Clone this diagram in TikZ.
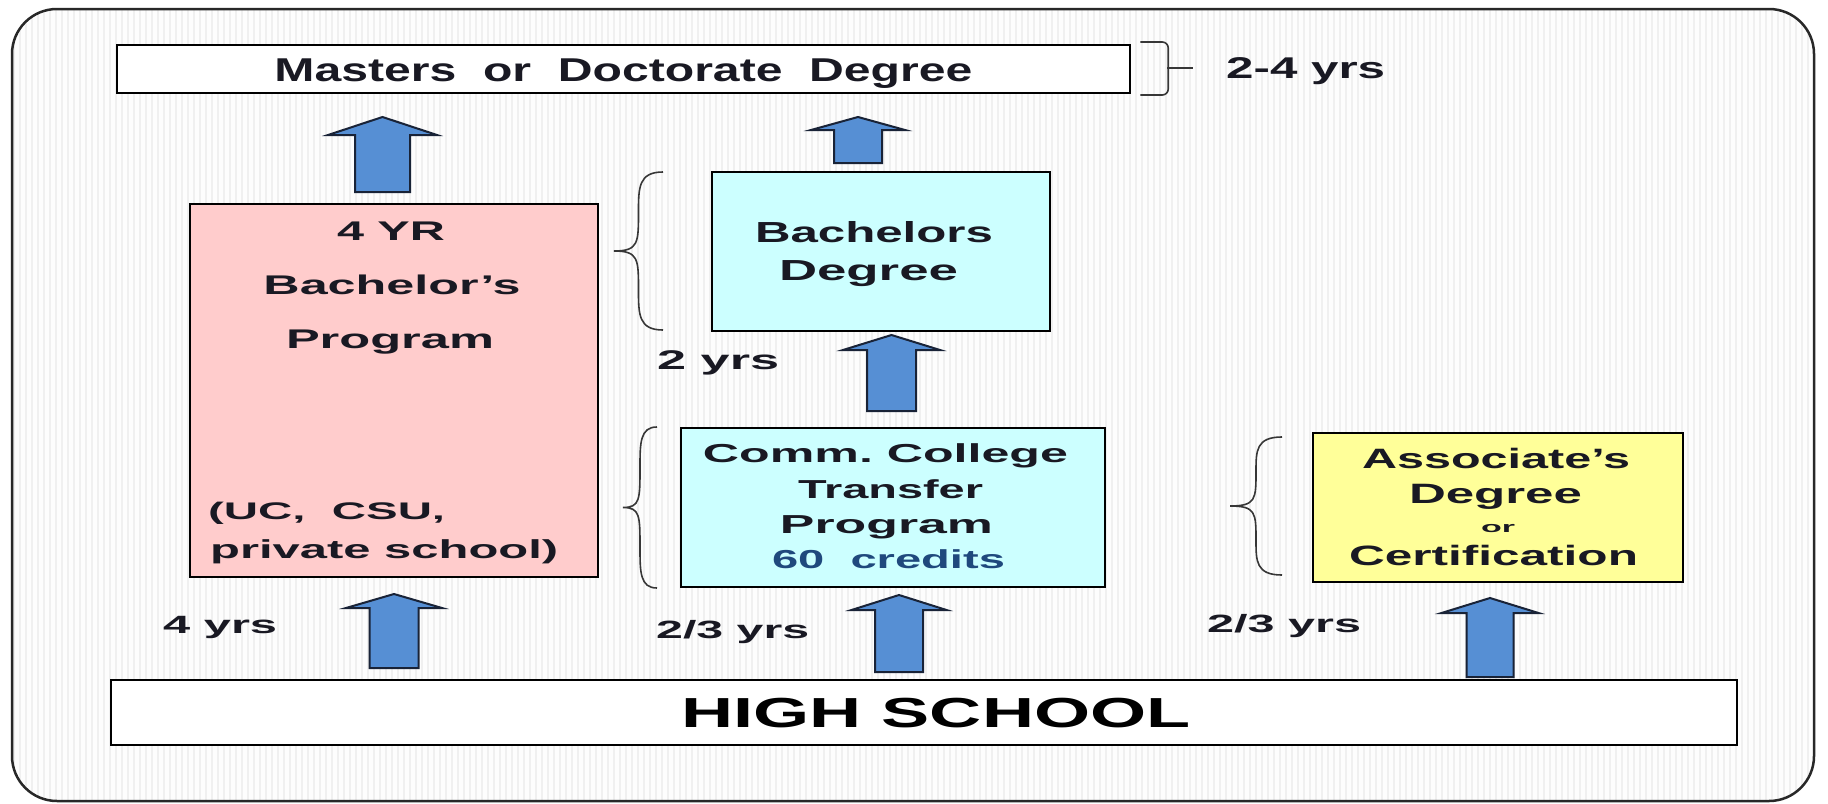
\documentclass[tikz,border=0pt]{standalone}
\usepackage{fontspec}
\setmainfont{Liberation Sans}
\usepackage{graphicx}
\definecolor{txtc}{RGB}{25,25,35}
\definecolor{bluetxt}{RGB}{31,73,125}
\definecolor{pinkf}{RGB}{255,204,204}
\definecolor{cyanf}{RGB}{204,255,255}
\definecolor{yellf}{RGB}{255,255,153}
\definecolor{arrf}{RGB}{86,143,212}
\definecolor{arrd}{RGB}{25,35,55}
\definecolor{bgc}{RGB}{253,253,253}
\definecolor{stripec}{RGB}{240,240,240}
\definecolor{brcc}{RGB}{55,55,55}
\newcommand\fw[2]{\resizebox{#1pt}{\height}{#2}}
\newcommand\fsz[1]{\fontsize{#1pt}{#1pt}\selectfont\bfseries}
\newcommand\leftbrc[4]{%
\draw[brc] (#2,#3) .. controls ({(#1+#2)/2},#3) and ({(#1+#2)/2},{#3+0.1*(#4-#3)}) .. ({(#1+#2)/2},{#3+0.25*(#4-#3)})
 .. controls ({(#1+#2)/2},{(#3+#4)/2-0.05*(#4-#3)}) and ({(#1+#2)/2},{(#3+#4)/2}) .. (#1,{(#3+#4)/2})
 .. controls ({(#1+#2)/2},{(#3+#4)/2}) and ({(#1+#2)/2},{(#3+#4)/2+0.05*(#4-#3)}) .. ({(#1+#2)/2},{#4-0.25*(#4-#3)})
 .. controls ({(#1+#2)/2},{#4-0.1*(#4-#3)}) and ({(#1+#2)/2},#4) .. (#2,#4);}
% cx, tip, base, bottom, shaft half, head half
\newcommand\blockup[6]{%
\draw[barrow] ({#1-#5},#4) -- ({#1-#5},#3) -- ({#1-#6},#3) -- (#1,#2) -- ({#1+#6},#3) -- ({#1+#5},#3) -- ({#1+#5},#4) -- cycle;}
\begin{document}
\begin{tikzpicture}[x=1pt,y=-1pt,
  box/.style={draw=black, line width=2.5pt, inner sep=0pt},
  txt/.style={inner sep=0pt, text=txtc},
  brc/.style={draw=brcc, line width=1.6pt},
  barrow/.style={fill=arrf, draw=arrd, line width=2pt, line join=miter}]
\useasboundingbox (0,0) rectangle (1828,803);
% background with stripes
\begin{scope}
\clip[rounded corners=45pt] (12,9) rectangle (1814,801);
\fill[bgc] (12,9) rectangle (1814,801);
\foreach \x in {14,20,...,1812} \draw[stripec, line width=2.2pt] (\x,9) -- (\x,801);
\end{scope}
\draw[draw={rgb,255:red,40;green,40;blue,40}, line width=2.5pt, rounded corners=45pt] (12,9) rectangle (1814,801);

% boxes
\node[box, fill=white, minimum width=1013pt, minimum height=48pt, text height=24pt, text depth=0pt] (md) at (623.5,69)
  {\fsz{33}\textcolor{txtc}{\fw{698}{Masters\ \ or\ \ Doctorate\ \ Degree}}\hspace{22pt}};
\node[box, fill=pinkf, minimum width=408pt, minimum height=373pt] (pink) at (394,390.5) {};
\node[box, fill=cyanf, minimum width=338pt, minimum height=159pt] (bach) at (881,251.5) {};
\node[box, fill=cyanf, minimum width=424pt, minimum height=159pt] (comm) at (893,507.5) {};
\node[box, fill=yellf, minimum width=370pt, minimum height=149pt] (assoc) at (1498,507.5) {};
\node[box, fill=white, minimum width=1626pt, minimum height=65pt, text height=30pt, text depth=0pt] (hs) at (924,712.5)
  {\hspace{24pt}\fsz{42}\textcolor{black}{\fw{509}{HIGH SCHOOL}}};

% texts
\node[txt, anchor=base west] (yrs24) at (1226,78) {\fsz{30}\fw{159}{2-4 yrs}};
\node[txt, anchor=base] (p1) at (391,240) {\fsz{27}\fw{108}{4 YR}};
\node[txt, anchor=base] (p2) at (392,294) {\fsz{27}\fw{257}{Bachelor’s}};
\node[txt, anchor=base] (p3) at (390,348) {\fsz{27}\fw{208}{Program}};
\node[txt, anchor=base west] (p4) at (208,519) {\fsz{24}\fw{237}{(UC,\ \ CSU,}};
\node[txt, anchor=base west] (p5) at (210,558) {\fsz{26}\fw{348}{private school)}};
\node[txt, anchor=base west] (yrs2) at (657,369) {\fsz{27}\fw{122}{2 yrs}};
\node[txt, anchor=base] (b1) at (874,242) {\fsz{29}\fw{238}{Bachelors}};
\node[txt, anchor=base] (b2) at (868.5,280) {\fsz{29}\fw{179}{Degree}};
\node[txt, anchor=base] (c1) at (885.5,462) {\fsz{26}\fw{365}{Comm.\ College}};
\node[txt, anchor=base] (c2) at (890.5,498) {\fsz{26}\fw{185}{Transfer}};
\node[txt, anchor=base] (c3) at (886.5,533) {\fsz{26}\fw{213}{Program}};
\node[txt, anchor=base, text=bluetxt] (c4) at (888.5,568) {\fsz{26}\fw{233}{60\ \ credits}};
\node[txt, anchor=base] (a1) at (1496,468) {\fsz{28}\fw{268}{Associate’s}};
\node[txt, anchor=base] (a2) at (1495.5,503) {\fsz{28}\fw{173}{Degree}};
\node[txt, anchor=base] (a3) at (1498,532) {\fsz{15}\fw{34}{or}};
\node[txt, anchor=base] (a4) at (1493.5,565) {\fsz{28}\fw{289}{Certification}};
\node[txt, anchor=base west] (yrs4) at (163,633) {\fsz{25}\fw{114}{4 yrs}};
\node[txt, anchor=base west] (yrs23a) at (656,638) {\fsz{25}\fw{153}{2/3 yrs}};
\node[txt, anchor=base west] (yrs23b) at (1207,632) {\fsz{25}\fw{154}{2/3 yrs}};

% braces
\leftbrc{614}{663}{172}{330}
\leftbrc{623}{657}{427}{588}
\leftbrc{1230}{1282}{437}{575}
\draw[brc, rounded corners=6pt] (md.east) ++(9,-27) -- ++(28,0) -- ++(0,53) -- ++(-28,0);
\draw[brc] (1167,68) -- (1193,68);

% block arrows
\blockup{382.5}{117}{135}{192}{27.5}{54.5}
\blockup{858}{117}{130}{163}{24}{47}
\blockup{891.5}{335}{350}{411}{24.5}{48.5}
\blockup{394}{594}{608}{668}{24.5}{48}
\blockup{899}{595}{610}{672}{24}{47.5}
\blockup{1490}{598}{613}{677}{23.5}{48.5}
\end{tikzpicture}
\end{document}
